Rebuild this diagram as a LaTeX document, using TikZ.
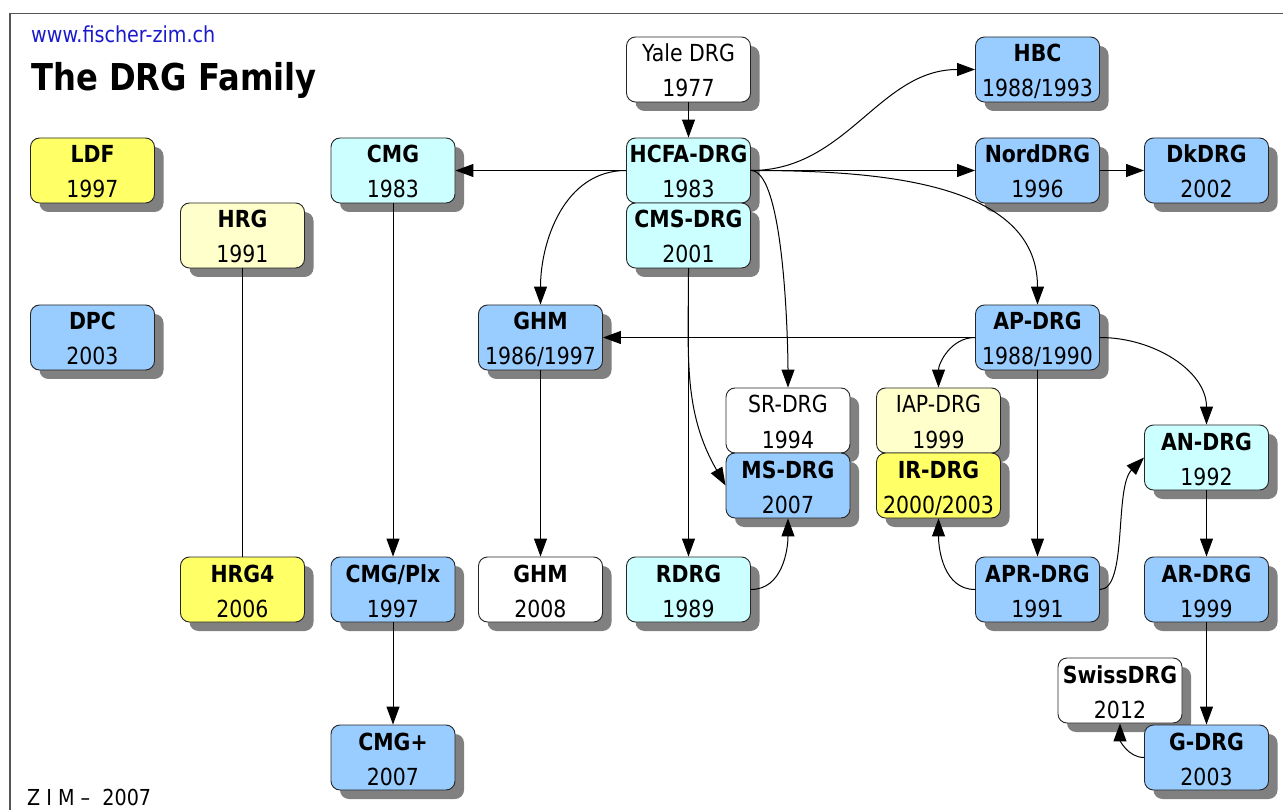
\documentclass[tikz,border=0pt]{standalone}
\usepackage{fontspec}
\setmainfont[FakeStretch=0.87]{DejaVu Sans}
\usetikzlibrary{arrows.meta,shadows}
\definecolor{cyanbox}{HTML}{CCFFFF}
\definecolor{bluebox}{HTML}{99CCFF}
\definecolor{yelbox}{HTML}{FFFF66}
\definecolor{lyelbox}{HTML}{FFFFCC}
\definecolor{urlblue}{HTML}{1A1ACC}
\definecolor{framegray}{HTML}{555555}
\definecolor{shadowgray}{HTML}{808080}
\newcommand\drg[6]{%
  \node[box,fill=#4] (#1) at (#2,-#3) {};
  \node[txt] (#1-t) at ([yshift=7.5pt]#1.center) {#5};
  \node[txt] (#1-y) at ([yshift=-27.5pt]#1.center) {#6};
}
\begin{document}
\begin{tikzpicture}[x=1pt,y=1pt,
  box/.style={draw=black!85,line width=0.9pt,rounded corners=9pt,minimum width=124pt,minimum height=65pt,inner sep=0pt,
    drop shadow={shadow xshift=9pt,shadow yshift=-9pt,fill=shadowgray,opacity=1}},
  txt/.style={anchor=base,inner sep=0pt,font=\fontsize{23.5}{28}\selectfont},
  arr/.style={draw=black,line width=1pt,-{Triangle[length=18pt,width=13pt]}},
  plain/.style={draw=black,line width=1pt}]
\useasboundingbox (0,0) rectangle (1283,-810);
\fill[white] (0,0) rectangle (1283,-810);
\draw[framegray,line width=1.5pt] (1283,-13.5) -- (10,-13.5) -- (10,-810);
\node[anchor=base west,inner sep=0pt,text=urlblue,font=\fontsize{22}{24}\selectfont] (url) at (31,-43) {www.fischer-zim.ch};
\node[anchor=base west,inner sep=0pt,font=\fontsize{37}{40}\selectfont\bfseries] (title) at (31,-91) {The DRG Family};
\node[anchor=base west,inner sep=0pt,font=\fontsize{22}{24}\selectfont] (foot) at (27,-805) {Z I M –\ \ 2007};

\drg{yale}{688.5}{69.5}{white}{Yale DRG}{1977}
\drg{hbc}{1037.5}{69.5}{bluebox}{\textbf{HBC}}{1988/1993}
\drg{hcfa}{688.5}{170.5}{cyanbox}{\textbf{HCFA-DRG}}{1983}
\drg{cms}{688.5}{235.5}{cyanbox}{\textbf{CMS-DRG}}{2001}
\drg{nord}{1037.5}{170.5}{bluebox}{\textbf{NordDRG}}{1996}
\drg{dk}{1206.5}{170.5}{bluebox}{\textbf{DkDRG}}{2002}
\drg{ldf}{92.5}{170.5}{yelbox}{\textbf{LDF}}{1997}
\drg{cmg}{393}{170.5}{cyanbox}{\textbf{CMG}}{1983}
\drg{hrg}{242.5}{235.5}{lyelbox}{\textbf{HRG}}{1991}
\drg{dpc}{92.5}{337.5}{bluebox}{\textbf{DPC}}{2003}
\drg{ghm}{540.5}{337.5}{bluebox}{\textbf{GHM}}{1986/1997}
\drg{ap}{1037.5}{337.5}{bluebox}{\textbf{AP-DRG}}{1988/1990}
\drg{sr}{788}{420.5}{white}{SR-DRG}{1994}
\drg{ms}{788}{485.5}{bluebox}{\textbf{MS-DRG}}{2007}
\drg{iap}{938.5}{420.5}{lyelbox}{IAP-DRG}{1999}
\drg{ir}{938.5}{485.5}{yelbox}{\textbf{IR-DRG}}{2000/2003}
\drg{an}{1206.5}{457.5}{cyanbox}{\textbf{AN-DRG}}{1992}
\drg{hrgfour}{242.5}{589.5}{yelbox}{\textbf{HRG4}}{2006}
\drg{cmgplx}{393}{589.5}{bluebox}{\textbf{CMG/Plx}}{1997}
\drg{ghmeight}{540.5}{589.5}{white}{\textbf{GHM}}{2008}
\drg{rdrg}{688.5}{589.5}{cyanbox}{\textbf{RDRG}}{1989}
\drg{apr}{1037.5}{589.5}{bluebox}{\textbf{APR-DRG}}{1991}
\drg{ar}{1206.5}{589.5}{bluebox}{\textbf{AR-DRG}}{1999}
\drg{swiss}{1120}{690.5}{white}{\textbf{SwissDRG}}{2012}
\drg{gdrg}{1206.5}{757.5}{bluebox}{\textbf{G-DRG}}{2003}
\drg{cmgplus}{393}{757.5}{bluebox}{\textbf{CMG+}}{2007}

\draw[arr] (yale) -- (hcfa);
\draw[arr] (hcfa) -- (cmg);
\draw[arr] (hcfa.east) to[out=0,in=180] (hbc.west);
\draw[arr] (hcfa) -- (nord);
\draw[arr] (nord) -- (dk);
\draw[arr] (hcfa.west) to[out=180,in=90] (ghm.north);
\draw[arr] (hcfa.east) to[out=0,in=90,looseness=0.4] (sr.north);
\draw[arr] (hcfa.east) to[out=0,in=90] (ap.north);
\draw[arr] (cms.south) -- (rdrg.north);
\draw[arr] (cms.south) to[out=-90,in=120] (ms.west);
\draw[arr] (rdrg.east) to[out=0,in=-90] (ms.south);
\draw[arr] (ap) -- (ghm);
\draw[arr] (ap.west) to[out=180,in=90] (iap.north);
\draw[arr] (ap.east) to[out=0,in=90] (an.north);
\draw[arr] (ap) -- (apr);
\draw[arr] (apr.west) to[out=180,in=-90] (ir.south);
\draw[arr] (apr.east) .. controls +(28,0) and +(-30,-30) .. (an.west);
\draw[arr] (an) -- (ar);
\draw[arr] (ar) -- (gdrg);
\draw[arr] (gdrg.west) to[out=180,in=-90] (swiss.south);
\draw[arr] (cmg) -- (cmgplx);
\draw[arr] (cmgplx) -- (cmgplus);
\draw[arr] (ghm) -- (ghmeight);
\draw[plain] (hrg) -- (hrgfour);
\end{tikzpicture}
\end{document}
